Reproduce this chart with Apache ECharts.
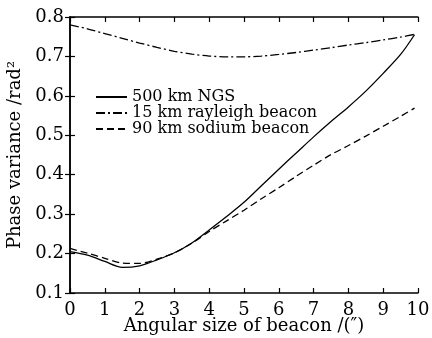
<!DOCTYPE html>
<html>
<head>
<meta charset="utf-8">
<script src="https://cdn.jsdelivr.net/npm/echarts@6/dist/echarts.min.js"></script>
<style>html,body{margin:0;padding:0;background:#fff}#c{width:432px;height:338px}</style>
</head>
<body>
<div id="c"></div>
<script>
const angles = [0, 0.5, 1, 1.5, 2, 2.5, 3, 3.5, 4, 4.5, 5, 5.5, 6, 6.5, 7, 7.5, 8, 8.5, 9, 9.5, 9.9];
const ngs = [0.205, 0.196, 0.180, 0.165, 0.169, 0.184, 0.202, 0.227, 0.260, 0.294, 0.330, 0.372, 0.414, 0.455, 0.496, 0.535, 0.572, 0.612, 0.657, 0.705, 0.755];
const rayleigh = [0.780, 0.770, 0.758, 0.746, 0.734, 0.723, 0.713, 0.706, 0.701, 0.699, 0.699, 0.701, 0.705, 0.710, 0.716, 0.722, 0.729, 0.735, 0.742, 0.749, 0.756];
const sodium = [0.213, 0.201, 0.188, 0.176, 0.175, 0.186, 0.202, 0.226, 0.256, 0.283, 0.310, 0.339, 0.367, 0.396, 0.424, 0.451, 0.474, 0.498, 0.523, 0.548, 0.569];
const names = ['500 km NGS', '15 km rayleigh beacon', '90 km sodium beacon'];
const xTicks = [0,1,2,3,4,5,6,7,8,9,10];
const yTicks = [0.1,0.2,0.3,0.4,0.5,0.6,0.7,0.8];

const pairs = arr => angles.map((a, i) => [a, arr[i]]);
const FONT = 'DejaVu Serif';
const axisCommon = {
  axisLine: {show: true, lineStyle: {color: '#000', width: 1.5}},
  axisTick: {show: true, inside: true, length: 5, lineStyle: {color: '#000', width: 1.2}},
  splitLine: {show: false}
};
const chart = echarts.init(document.getElementById('c'), null, {renderer: 'canvas'});
chart.setOption({
  animation: false,
  backgroundColor: '#fff',
  grid: {left: 70, right: 14, top: 17, bottom: 45, containLabel: false, outerBoundsMode: 'none'},
  legend: {
    orient: 'vertical', left: 95, top: 89, padding: 0,
    itemWidth: 31, itemHeight: 14, itemGap: 0, itemTextGap: 4,
    itemStyle: {opacity: 0},
    textStyle: {fontFamily: FONT, fontSize: 16, color: '#000', lineHeight: 16},
    data: names
  },
  xAxis: [
    Object.assign({
      type: 'value', min: 0, max: 10, interval: 1,
      name: 'Angular size of beacon /(\u2033)', nameLocation: 'middle', nameGap: 24,
      nameMoveOverlap: false,
      nameTextStyle: {fontFamily: FONT, fontSize: 18, color: '#000'},
      axisLabel: {fontFamily: FONT, fontSize: 18, color: '#000', margin: 8,
        formatter: v => String(v)}
    }, axisCommon),
    Object.assign({
      type: 'value', min: 0, max: 10, interval: 1, position: 'top',
      axisLabel: {show: false}
    }, axisCommon)
  ],
  yAxis: [
    Object.assign({
      type: 'value', min: 0.1, max: 0.8, interval: 0.1,
      name: 'Phase variance /rad\u00b2', nameLocation: 'middle', nameGap: 46,
      nameTextStyle: {fontFamily: FONT, fontSize: 18, color: '#000'},
      axisLabel: {fontFamily: FONT, fontSize: 18, color: '#000', margin: 6,
        formatter: v => v.toFixed(1)}
    }, axisCommon),
    Object.assign({
      type: 'value', min: 0.1, max: 0.8, interval: 0.1, position: 'right',
      axisLabel: {show: false}
    }, axisCommon)
  ],
  series: [
    {name: names[0], type: 'line', data: pairs(ngs), showSymbol: false, symbol: 'none', smooth: 0.3,
      lineStyle: {color: '#000', width: 1.3, type: 'solid'}, itemStyle: {color: '#000'}},
    {name: names[1], type: 'line', data: pairs(rayleigh), showSymbol: false, symbol: 'none', smooth: 0.3,
      lineStyle: {color: '#000', width: 1.3, type: [9, 3, 2, 3]}, itemStyle: {color: '#000'}},
    {name: names[2], type: 'line', data: pairs(sodium), showSymbol: false, symbol: 'none', smooth: 0.3,
      lineStyle: {color: '#000', width: 1.3, type: [7, 4]}, itemStyle: {color: '#000'}}
  ]
});
</script>
</body>
</html>
